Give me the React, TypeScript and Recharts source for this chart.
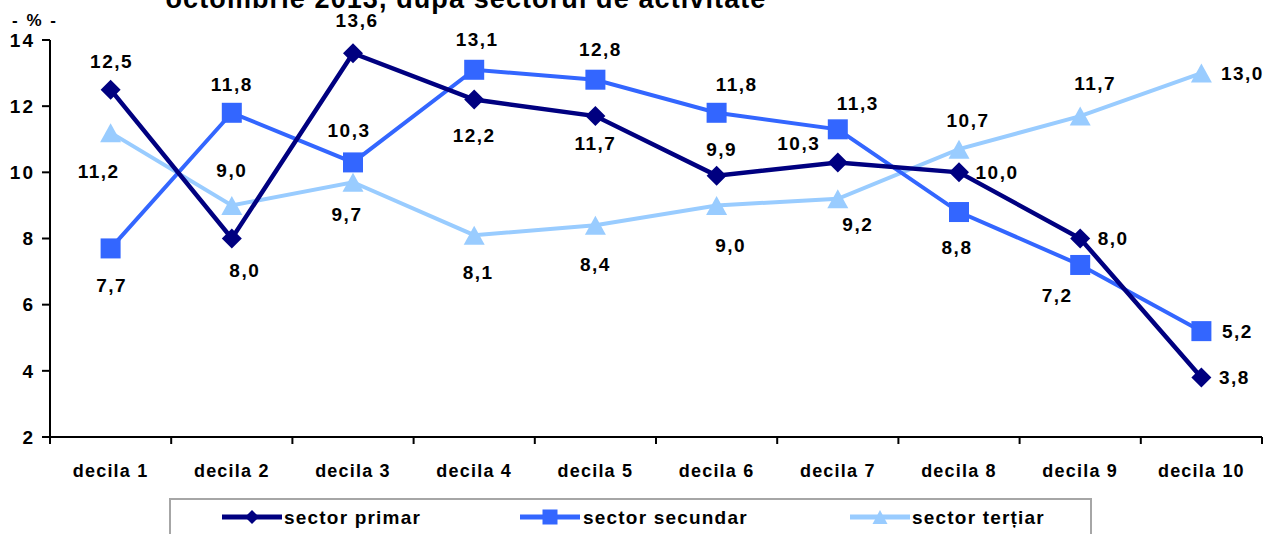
import React from 'react';
import { LineChart, Line, XAxis, YAxis, Legend, LabelList, Customized } from 'recharts';

// Deciles on the horizontal axis
const categories = ['decila 1', 'decila 2', 'decila 3', 'decila 4', 'decila 5', 'decila 6', 'decila 7', 'decila 8', 'decila 9', 'decila 10'];

// Share of each sector per decile (%)
const primar = [12.5, 8.0, 13.6, 12.2, 11.7, 9.9, 10.3, 10.0, 8.0, 3.8];
const secundar = [7.7, 11.8, 10.3, 13.1, 12.8, 11.8, 11.3, 8.8, 7.2, 5.2];
const tertiar = [11.2, 9.0, 9.7, 8.1, 8.4, 9.0, 9.2, 10.7, 11.7, 13.0];

const yTicks = [2, 4, 6, 8, 10, 12, 14];

const seriesNames = {
  primar: 'sector primar',
  secundar: 'sector secundar',
  tertiar: 'sector terțiar',
};

const COLORS = {
  primar: '#000080',
  secundar: '#3366FF',
  tertiar: '#99CCFF',
};

// Label placement around each point: [dx, dy] from the marker centre
const offsetsPrimar: [number, number][] = [[1, -28], [13, 32], [4, -33], [0, 36], [0, 27], [5, -26], [-39, -19], [38, 0], [33, 0], [33, 0]];
const offsetsSecundar: [number, number][] = [[1, 37], [0, -28], [-4, -32], [3, -30], [5, -30], [20, -28], [20, -26], [-2, 35], [-23, 31], [36, 0]];
const offsetsTertiar: [number, number][] = [[-12, 39], [0, -35], [-6, 32], [4, 37], [0, 39], [14, 40], [20, 26], [9, -29], [15, -33], [41, 0]];

const data = categories.map((name, i) => ({
  name,
  primar: primar[i],
  secundar: secundar[i],
  tertiar: tertiar[i],
}));

const FONT = '"Liberation Sans", Arial, Helvetica, sans-serif';
const CHART_W = 1265;
const CHART_H = 534;
const MARGIN = { top: 40, right: 3, left: 0, bottom: 57 };
const Y_AXIS_W = 50;
const X_AXIS_H = 40;
const PLOT_W = CHART_W - MARGIN.left - MARGIN.right - Y_AXIS_W;
const BAND = PLOT_W / categories.length;

const fmt = (v: number) => v.toFixed(1).replace('.', ',');

const makeLabel = (offsets: [number, number][]) => (props: any) => {
  const { x, y, value, index } = props;
  const [dx, dy] = offsets[index] || [0, -25];
  return (
    <text
      x={x + dx}
      y={y + dy}
      textAnchor="middle"
      dominantBaseline="central"
      fontFamily={FONT}
      fontWeight="bold"
      fontSize={19}
      letterSpacing={1.5}
      fill="#000"
    >
      {fmt(value)}
    </text>
  );
};

const Diamond = (props: any) => {
  const { cx, cy, fill, r = 10 } = props;
  if (cx == null || cy == null) return null;
  return <polygon points={`${cx},${cy - r} ${cx + r},${cy} ${cx},${cy + r} ${cx - r},${cy}`} fill={fill} />;
};

const Square = (props: any) => {
  const { cx, cy, fill, s = 20 } = props;
  if (cx == null || cy == null) return null;
  return <rect x={cx - s / 2} y={cy - s / 2} width={s} height={s} fill={fill} />;
};

const Triangle = (props: any) => {
  const { cx, cy, fill, w = 21, h = 19 } = props;
  if (cx == null || cy == null) return null;
  return <polygon points={`${cx},${cy - h / 2} ${cx + w / 2},${cy + h / 2} ${cx - w / 2},${cy + h / 2}`} fill={fill} />;
};

const XTick = (props: any) => {
  const { x, y, payload, index } = props;
  const last = index === categories.length - 1;
  return (
    <g>
      <line x1={x - BAND / 2} y1={y} x2={x - BAND / 2} y2={y + 7} stroke="#000" strokeWidth={2} />
      {last && <line x1={x + BAND / 2} y1={y} x2={x + BAND / 2} y2={y + 7} stroke="#000" strokeWidth={2} />}
      <text
        x={x}
        y={y + 40}
        textAnchor="middle"
        fontFamily={FONT}
        fontWeight="bold"
        fontSize={18}
        letterSpacing={1.2}
        fill="#000"
      >
        {payload.value}
      </text>
    </g>
  );
};

const Title = () => (
  <g>
    <text x={466} y={8} textAnchor="middle" fontFamily={FONT} fontWeight="bold" fontSize={27} letterSpacing={1.1} fill="#000">
      octombrie 2013, după sectorul de activitate
    </text>
    <text x={35} y={26} textAnchor="middle" fontFamily={FONT} fontWeight="bold" fontSize={17} letterSpacing={2} fill="#000">
      - % -
    </text>
  </g>
);

const legendLayout = [
  { key: 'primar', symbolX: 53, textX: 115 },
  { key: 'secundar', symbolX: 351, textX: 414 },
  { key: 'tertiar', symbolX: 681, textX: 743 },
];

const LegendContent = () => (
  <svg width={923} height={40} style={{ display: 'block', overflow: 'visible' }}>
    <rect x={1} y={1} width={921} height={60} fill="#fff" stroke="#a6a6a6" strokeWidth={2} />
    {legendLayout.map(({ key, symbolX, textX }) => {
      const color = (COLORS as any)[key];
      const cy = 19;
      const cx = symbolX + 30;
      return (
        <g key={key}>
          <line x1={symbolX} y1={cy} x2={symbolX + 60} y2={cy} stroke={color} strokeWidth={5} />
          {key === 'primar' && <Diamond cx={cx} cy={cy} fill={color} r={7} />}
          {key === 'secundar' && <Square cx={cx} cy={cy} fill={color} s={15} />}
          {key === 'tertiar' && <Triangle cx={cx} cy={cy} fill={color} w={15} h={14} />}
          <text
            x={textX}
            y={cy}
            dominantBaseline="central"
            fontFamily={FONT}
            fontWeight="bold"
            fontSize={19}
            letterSpacing={1.2}
            fill="#000"
          >
            {(seriesNames as any)[key]}
          </text>
        </g>
      );
    })}
  </svg>
);

export default function App() {
  return (
    <div style={{ position: 'absolute', left: 0, top: 0, width: CHART_W, height: CHART_H, overflow: 'hidden', background: '#fff' }}>
      <LineChart width={CHART_W} height={CHART_H} data={data} margin={MARGIN}>
        <Customized component={Title} />
        <XAxis
          dataKey="name"
          height={X_AXIS_H}
          padding={{ left: BAND / 2, right: BAND / 2 }}
          axisLine={{ stroke: '#000', strokeWidth: 2 }}
          tickLine={false}
          tickSize={0}
          tickMargin={0}
          interval={0}
          tick={<XTick />}
        />
        <YAxis
          width={Y_AXIS_W}
          domain={[2, 14]}
          ticks={yTicks}
          allowDataOverflow
          axisLine={{ stroke: '#000', strokeWidth: 2 }}
          tickLine={{ stroke: '#000', strokeWidth: 2 }}
          tickSize={8}
          tickMargin={7}
          tick={{ fontFamily: FONT, fontWeight: 'bold', fontSize: 19, letterSpacing: 2, fill: '#000' }}
        />
        <Legend
          layout="horizontal"
          verticalAlign="middle"
          align="center"
          wrapperStyle={{ left: 169, top: 498, width: 923 }}
          content={<LegendContent />}
        />
        <Line
          type="linear"
          dataKey="tertiar"
          name={seriesNames.tertiar}
          stroke={COLORS.tertiar}
          strokeWidth={4}
          dot={(p: any) => <Triangle key={`t${p.index}`} cx={p.cx} cy={p.cy} fill={COLORS.tertiar} />}
          isAnimationActive={false}
        >
          <LabelList dataKey="tertiar" content={makeLabel(offsetsTertiar)} />
        </Line>
        <Line
          type="linear"
          dataKey="secundar"
          name={seriesNames.secundar}
          stroke={COLORS.secundar}
          strokeWidth={4}
          dot={(p: any) => <Square key={`s${p.index}`} cx={p.cx} cy={p.cy} fill={COLORS.secundar} />}
          isAnimationActive={false}
        >
          <LabelList dataKey="secundar" content={makeLabel(offsetsSecundar)} />
        </Line>
        <Line
          type="linear"
          dataKey="primar"
          name={seriesNames.primar}
          stroke={COLORS.primar}
          strokeWidth={4.5}
          dot={(p: any) => <Diamond key={`p${p.index}`} cx={p.cx} cy={p.cy} fill={COLORS.primar} />}
          isAnimationActive={false}
        >
          <LabelList dataKey="primar" content={makeLabel(offsetsPrimar)} />
        </Line>
      </LineChart>
    </div>
  );
}
